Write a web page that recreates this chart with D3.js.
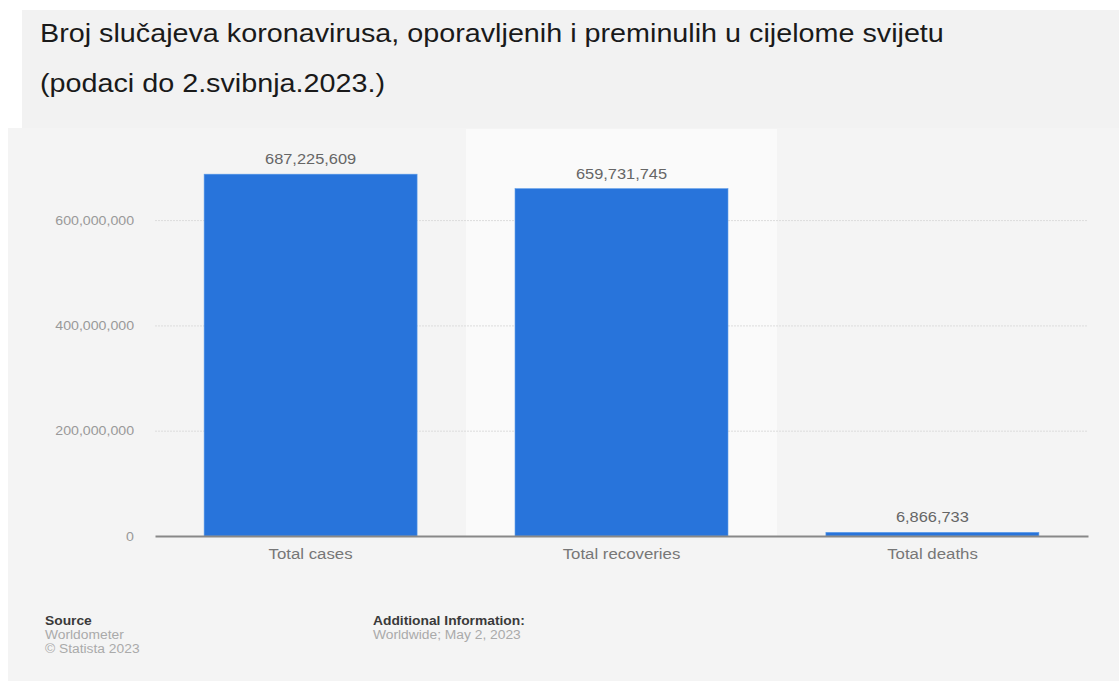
<!DOCTYPE html>
<html><head><meta charset="utf-8">
<script src="https://cdn.jsdelivr.net/npm/d3@7"></script>
<style>body{margin:0;background:#fff;}svg{display:block;font-family:"Liberation Sans",Arial,sans-serif;}</style>
</head><body>
<svg id="c" width="1119" height="681"></svg>
<script>
const categories = ["Total cases", "Total recoveries", "Total deaths"];
const values = [687225609, 659731745, 6866733];
const yTicks = [0, 200000000, 400000000, 600000000];
const titleLines = ["Broj slučajeva koronavirusa, oporavljenih i preminulih u cijelome svijetu", "(podaci do 2.svibnja.2023.)"];
const highlighted = "Total recoveries";

// widen text horizontally (reference picture is stretched)
function stretch(sel, f) {
  sel.each(function () {
    const w = this.getComputedTextLength();
    d3.select(this).attr("textLength", w * f).attr("lengthAdjust", "spacingAndGlyphs");
  });
}

const svg = d3.select("#c");
svg.append("rect").attr("x", 8).attr("y", 128).attr("width", 1111).attr("height", 553).attr("fill", "#f4f4f4");
svg.append("rect").attr("x", 22).attr("y", 10).attr("width", 1097).attr("height", 118).attr("fill", "#f2f2f2");

svg.append("g").selectAll("text").data(titleLines).join("text")
  .attr("x", 40).attr("y", (d, i) => 42 + i * 50)
  .attr("font-size", 26).attr("fill", "#1a1a1a").text(d => d)
  .call(stretch, 1.105);

const x = d3.scaleBand().domain(categories).range([155, 1088]).paddingInner(0.315).paddingOuter(0.158);
const xb = d3.scaleBand().domain(categories).range([155, 1088]);
const y = d3.scaleLinear().domain([0, 200000000]).range([536, 430.7]);

svg.append("rect").attr("x", xb(highlighted)).attr("y", 129).attr("width", xb.bandwidth())
  .attr("height", y(0) - 129).attr("fill", "#fafafa");

const grid = svg.append("g").attr("transform", "translate(155,0)")
  .call(d3.axisLeft(y).tickValues(yTicks.filter(t => t > 0)).tickSize(-933).tickFormat(""));
grid.select(".domain").remove();
grid.selectAll("line").attr("stroke", "#dcdcdc").attr("stroke-dasharray", "2,1");

const yax = svg.append("g").attr("transform", "translate(134,0)")
  .call(d3.axisLeft(y).tickValues(yTicks).tickSize(0).tickFormat(d3.format(",")));
yax.select(".domain").remove();
yax.selectAll("text").attr("font-size", 12).attr("fill", "#999").attr("font-family", "Liberation Sans, Arial, sans-serif").attr("x", 0).attr("dy", "0.35em")
  .call(stretch, 1.18);

svg.append("g").selectAll("rect").data(values).join("rect")
  .attr("x", (d, i) => x(categories[i])).attr("width", x.bandwidth())
  .attr("y", d => y(d)).attr("height", d => y(0) - y(d))
  .attr("fill", "#2874db").attr("stroke", "#5a9ae8").attr("stroke-width", 0.6);

svg.append("g").selectAll("text").data(values).join("text")
  .attr("x", (d, i) => x(categories[i]) + x.bandwidth() / 2).attr("y", d => y(d) - 10)
  .attr("text-anchor", "middle").attr("font-size", 14).attr("fill", "#666")
  .text(d => d3.format(",")(d))
  .call(stretch, 1.17);

const xax = svg.append("g").attr("transform", `translate(0,${y(0)})`)
  .call(d3.axisBottom(xb).tickSize(0).tickPadding(13));
xax.select(".domain").attr("stroke", "#888").attr("stroke-width", 2);
xax.selectAll("text").attr("font-size", 14).attr("fill", "#777").attr("font-family", "Liberation Sans, Arial, sans-serif")
  .call(stretch, 1.2);

const foot = [
  {x: 45, y: 625, t: "Source", c: "#3a3a3a", w: "bold"},
  {x: 45, y: 639, t: "Worldometer", c: "#aaa", w: "normal"},
  {x: 45, y: 653, t: "© Statista 2023", c: "#aaa", w: "normal"},
  {x: 373, y: 625, t: "Additional Information:", c: "#3a3a3a", w: "bold"},
  {x: 373, y: 639, t: "Worldwide; May 2, 2023", c: "#aaa", w: "normal"}
];
svg.append("g").selectAll("text").data(foot).join("text")
  .attr("x", d => d.x).attr("y", d => d.y).attr("font-size", 12)
  .attr("fill", d => d.c).attr("font-weight", d => d.w).text(d => d.t)
  .call(stretch, 1.15);
</script>
</body></html>
